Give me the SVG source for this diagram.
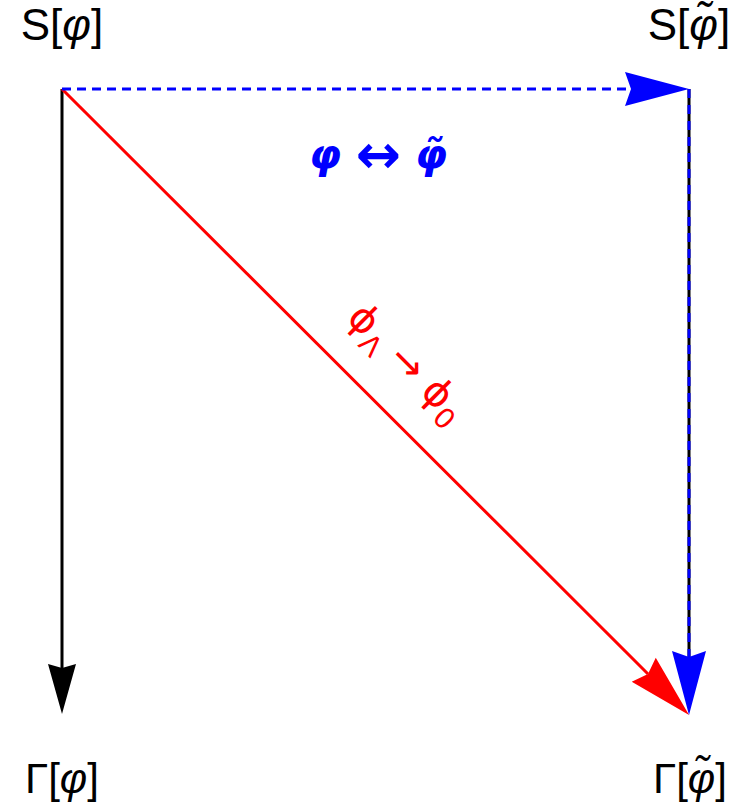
<svg xmlns="http://www.w3.org/2000/svg" width="748" height="805" viewBox="0 0 748 805">
<style>
.lbl{font-family:"Liberation Sans","DejaVu Sans",sans-serif;fill:#000;text-anchor:middle}
.top{font-size:44px}
.bot{font-size:42px}
.it{font-style:italic}
.blue{font-family:"DejaVu Sans","Liberation Sans",sans-serif;font-size:41px;font-weight:bold;fill:#0000ff;text-anchor:middle}
.arr{font-size:54px;font-style:normal}
.red{font-family:"DejaVu Sans","Liberation Sans",sans-serif;font-size:40px;fill:#ff0000;text-anchor:middle}
.ln{fill:none;stroke-width:3}
</style>
<defs>
<marker id="ahK" viewBox="-52 -16 54 32" refX="-46" refY="0" markerUnits="userSpaceOnUse" markerWidth="54" markerHeight="32" orient="auto">
<path d="M0,0 L-50,-14 L-46,0 L-50,14 Z" fill="#000"/>
</marker>
<marker id="ahB" viewBox="-66 -19 68 38" refX="-58" refY="0" markerUnits="userSpaceOnUse" markerWidth="68" markerHeight="38" orient="auto">
<path d="M0,0 L-64,-17 L-58,0 L-64,17 Z" fill="#0000ff"/>
</marker>
<marker id="ahR" viewBox="-66 -19 68 38" refX="-58" refY="0" markerUnits="userSpaceOnUse" markerWidth="68" markerHeight="38" orient="auto">
<path d="M0,0 L-64,-17 L-58,0 L-64,17 Z" fill="#ff0000"/>
</marker>
</defs>
<rect width="748" height="805" fill="#fff"/>
<g id="connectors">
<line class="ln" x1="62" y1="89" x2="62" y2="668" stroke="#000" marker-end="url(#ahK)"/>
<line class="ln" x1="689" y1="89" x2="689" y2="657" stroke="#000"/>
<line class="ln" x1="62" y1="89" x2="648" y2="674" stroke="#ff0000" marker-end="url(#ahR)"/>
<line class="ln" x1="62" y1="89" x2="631" y2="89" stroke="#0000ff" stroke-dasharray="9,6" marker-end="url(#ahB)"/>
<line class="ln" x1="689" y1="89" x2="689" y2="657" stroke="#0000ff" stroke-dasharray="9,7" marker-end="url(#ahB)"/>
<text class="blue" x="378" y="168"><tspan class="it">φ</tspan> <tspan class="arr" dy="5">↔</tspan> <tspan class="it" dy="-5">φ̃</tspan></text>
<text class="red" transform="translate(398,372) rotate(45)">ϕ<tspan font-size="28" dy="10">Λ</tspan><tspan dy="-10"> → ϕ</tspan><tspan font-size="28" dy="10">0</tspan></text>
</g>
<g id="node-S-phi"><text class="lbl top" x="62" y="40">S[<tspan class="it">φ</tspan>]</text></g>
<g id="node-S-phitilde"><text class="lbl top" x="689" y="40">S[<tspan class="it">φ̃</tspan>]</text></g>
<g id="node-Gamma-phi"><text class="lbl bot" x="62" y="793">Γ[<tspan class="it">φ</tspan>]</text></g>
<g id="node-Gamma-phitilde"><text class="lbl bot" x="690" y="793">Γ[<tspan class="it">φ̃</tspan>]</text></g>
</svg>
